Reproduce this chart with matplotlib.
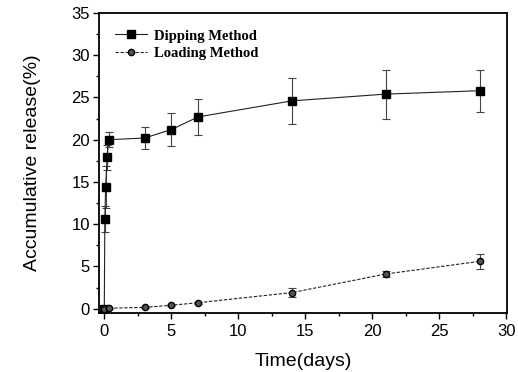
import matplotlib
matplotlib.use("Agg")
import matplotlib.pyplot as plt
from matplotlib.ticker import MultipleLocator
from matplotlib.lines import Line2D

# Data
dip_t = [0, 0.04, 0.1, 0.21, 0.33, 3, 5, 7, 14, 21, 28]
dip_v = [0, 10.6, 14.4, 17.9, 20.0, 20.2, 21.2, 22.7, 24.6, 25.4, 25.8]
dip_e = [0, 1.5, 2.5, 1.5, 0.9, 1.3, 2.0, 2.1, 2.7, 2.9, 2.5]

load_t = [0, 0.33, 3, 5, 7, 14, 21, 28]
load_v = [0, 0.05, 0.15, 0.4, 0.7, 1.9, 4.1, 5.6]
load_e = [0, 0.05, 0.1, 0.1, 0.1, 0.5, 0.3, 0.85]

xticks = [0, 5, 10, 15, 20, 25, 30]
yticks = [0, 5, 10, 15, 20, 25, 30, 35]

plt.rcParams['font.family'] = ['Liberation Sans', 'DejaVu Sans']

fig = plt.figure(figsize=(5.18, 3.72), dpi=100)
ax = fig.add_axes([0.191, 0.159, 0.788, 0.806])

dip_style = dict(color='#222222', lw=0.8, marker='s', ms=5.5, mfc='black', mec='black')
load_style = dict(color='#222222', lw=0.8, ls='--', dashes=(3, 1.5),
                  marker='o', ms=4.5, mfc='#555555', mec='black', mew=1.0)

ax.errorbar(dip_t, dip_v, yerr=dip_e, fmt='none',
            ecolor='#444444', elinewidth=0.8, capsize=3, capthick=0.8)
ax.plot(dip_t, dip_v, **dip_style)
ax.errorbar(load_t, load_v, yerr=load_e, fmt='none',
            ecolor='#444444', elinewidth=0.8, capsize=3, capthick=0.8)
ax.plot(load_t, load_v, **load_style)

ax.set_xlim(-0.4, 30.05)
ax.set_ylim(-0.5, 35)
ax.set_xticks(xticks)
ax.set_yticks(yticks)
ax.xaxis.set_minor_locator(MultipleLocator(2.5))
ax.yaxis.set_minor_locator(MultipleLocator(2.5))
ax.tick_params(axis='both', which='major', direction='out', length=4, width=1,
               labelsize=12, pad=2.5)
ax.tick_params(axis='x', which='major', pad=4)
ax.tick_params(axis='both', which='minor', direction='out', length=2.5, width=1)
for s in ax.spines.values():
    s.set_linewidth(1.3)

ax.set_xlabel('Time(days)', fontsize=14, labelpad=10)
ax.set_ylabel('Accumulative release(%)', fontsize=14, labelpad=22)

handles = [Line2D([], [], **dip_style), Line2D([], [], **load_style)]
labels = ['Dipping Method', 'Loading Method']
ax.legend(handles, labels, loc='upper left', frameon=False,
          prop={'family': ['Liberation Serif'], 'weight': 'bold', 'size': 10.5},
          handlelength=2.2, handletextpad=0.5, labelspacing=0.3,
          borderaxespad=0.0, bbox_to_anchor=(0.025, 0.965))

fig.savefig('out.png', dpi=100)
